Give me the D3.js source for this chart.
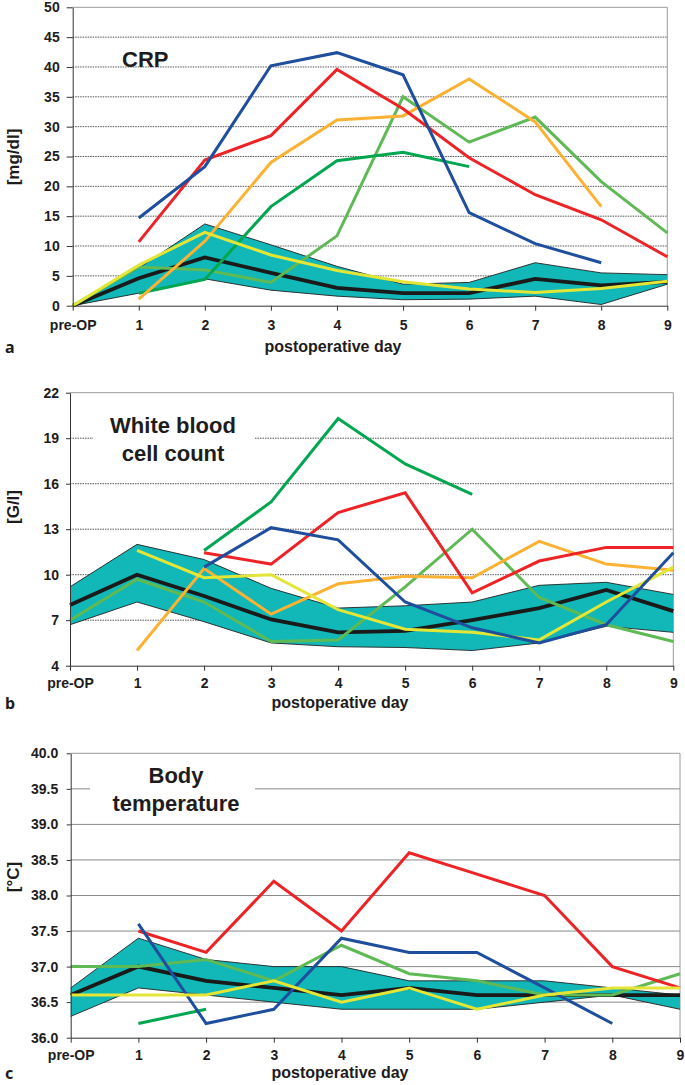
<!DOCTYPE html>
<html>
<head>
<meta charset="utf-8">
<script src="https://cdn.jsdelivr.net/npm/d3@7"></script>
<style>
    body { margin: 0; background: #fff; }
    text { font-family: "Liberation Sans", Arial, sans-serif; font-weight: bold; fill: #1e1c1c; }
    .panel-letter { font-family: "Noto Sans", "DejaVu Sans", sans-serif; font-size: 16px; }
</style>
</head>
<body>
<svg id="chart" width="685" height="1085"></svg>
<script>
const days = ["pre-OP", "1", "2", "3", "4", "5", "6", "7", "8", "9"];

// a: CRP [mg/dl]
const crpTicks = [0, 5, 10, 15, 20, 25, 30, 35, 40, 45, 50];
const crpUpper = [0, 6.3, 13.7, 10.2, 6.6, 3.6, 3.9, 7.2, 5.5, 5.2];
const crpLower = [0, 2.1, 4.5, 2.6, 1.6, 1.0, 1.1, 1.6, 0.2, 3.6];
const crpMedian = [0, 4.6, 8.1, 5.5, 3.0, 2.1, 2.1, 4.5, 3.4, 4.0];
const crpYellow = [0, 6.8, 12.3, 8.5, 5.9, 4.0, 2.8, 2.2, 2.9, 4.1];
const crpLightGreen = [0, 6.5, 6.0, 3.9, 11.7, 35.0, 27.4, 31.6, 20.8, 12.2];
const crpDarkGreen = [null, 2.1, 4.4, 16.6, 24.3, 25.7, 23.3, null, null, null];
const crpOrange = [null, 1.1, 10.8, 24.0, 31.1, 31.8, 38.0, 30.8, 16.6, null];
const crpRed = [null, 10.7, 24.4, 28.5, 39.6, 33.0, 24.8, 18.6, 14.4, 8.2];
const crpBlue = [null, 14.7, 23.3, 40.2, 42.4, 38.7, 15.6, 10.4, 7.2, null];

// b: white blood cell count [G/l]
const wbcTicks = [4, 7, 10, 13, 16, 19, 22];
const wbcUpper = [9.2, 12.0, 11.0, 9.1, 7.8, 7.95, 8.2, 9.3, 9.5, 8.7];
const wbcLower = [6.7, 8.2, 6.9, 5.5, 5.25, 5.2, 5.0, 5.5, 6.6, 6.2];
const wbcMedian = [8.0, 10.0, 8.6, 7.05, 6.2, 6.3, 7.0, 7.8, 9.0, 7.6];
const wbcYellow = [null, 11.6, 9.8, 10.0, 7.7, 6.4, 6.2, 5.7, 8.2, 10.5];
const wbcLightGreen = [7.0, 9.7, 8.2, 5.6, 5.7, 9.2, 13.0, 8.5, 6.7, 5.6];
const wbcDarkGreen = [null, null, 11.6, 14.8, 20.3, 17.3, 15.3, null, null, null];
const wbcOrange = [null, 5.0, 10.4, 7.4, 9.4, 9.9, 9.8, 12.2, 10.7, 10.3];
const wbcRed = [null, null, 11.45, 10.7, 14.1, 15.4, 8.8, 10.9, 11.8, 11.8];
const wbcBlue = [null, null, 10.5, 13.1, 12.3, 8.2, 6.5, 5.5, 6.7, 11.45];

// c: body temperature [°C]
const tempTicks = [36.0, 36.5, 37.0, 37.5, 38.0, 38.5, 39.0, 39.5, 40.0];
const tempUpper = [36.7, 37.4, 37.1, 37.0, 37.0, 36.8, 36.8, 36.8, 36.7, 36.6];
const tempLower = [36.3, 36.7, 36.6, 36.5, 36.4, 36.4, 36.4, 36.5, 36.6, 36.4];
const tempMedian = [36.6, 37.0, 36.8, 36.7, 36.6, 36.7, 36.6, 36.6, 36.6, 36.6];
const tempYellow = [36.6, 36.6, 36.6, 36.8, 36.5, 36.7, 36.4, 36.6, 36.7, 36.7];
const tempLightGreen = [37.0, 37.0, 37.1, 36.8, 37.3, 36.9, 36.8, 36.6, 36.6, 36.9];
const tempDarkGreen = [null, 36.2, 36.4, null, null, null, null, null, null, null];
const tempRed = [null, 37.5, 37.2, 38.2, 37.5, 38.6, 38.3, 38.0, 37.0, 36.7];
const tempBlue = [null, 37.6, 36.2, 36.4, 37.4, 37.2, 37.2, 36.7, 36.2, null];

const colors = {
    band: "#12b7b7",
    median: "#1a1a1a",
    lightGreen: "#5fb954",
    darkGreen: "#00a650",
    orange: "#fbb232",
    red: "#ed2326",
    blue: "#1f4e9d",
    yellow: "#e3e636"
};

const svg = d3.select("#chart");

function drawPanel(p) {
    let x = d3.scalePoint().domain(days).range(p.xRange);
    let y = d3.scaleLinear().domain(p.yDomain).range(p.yRange);
    let left = p.xRange[0], right = p.xRange[1];
    let bottom = p.yRange[0], top = p.yRange[1];
    let g = svg.append("g");

    // horizontal grid lines (first and last tick are axis / frame)
    g.selectAll("line.grid")
        .data(p.yTicks.slice(1, -1))
        .join("line")
        .classed("grid", true)
        .attr("x1", left)
        .attr("x2", right)
        .attr("y1", d => y(d))
        .attr("y2", d => y(d))
        .attr("stroke", p.dotted ? "#555" : "#8a8a8a")
        .attr("stroke-width", 1)
        .attr("stroke-dasharray", p.dotted ? "1.5,1" : null);

    // top and right frame
    g.append("path")
        .attr("d", "M" + left + "," + top + "H" + right + "V" + bottom)
        .attr("fill", "none")
        .attr("stroke", "#9a9a9a");

    // title, on a white patch where it crosses a grid line
    if (p.titleBox) {
        g.append("rect")
            .attr("x", p.titleBox[0])
            .attr("y", p.titleBox[1])
            .attr("width", p.titleBox[2])
            .attr("height", p.titleBox[3])
            .attr("fill", "#fff");
    }
    g.append("text")
        .attr("text-anchor", p.titleAnchor)
        .attr("font-size", 22)
        .selectAll("tspan")
        .data(p.title)
        .join("tspan")
        .attr("x", p.titlePos[0])
        .attr("y", (d, i) => p.titlePos[1] + i * 27.5)
        .text(d => d);

    // interquartile band
    let area = d3.area()
        .x((d, i) => x(days[i]))
        .y0((d, i) => y(p.lower[i]))
        .y1(d => y(d));
    g.append("path")
        .datum(p.upper)
        .attr("d", area)
        .attr("fill", colors.band);

    let line = d3.line()
        .defined(d => d != null)
        .x((d, i) => x(days[i]))
        .y(d => y(d));

    g.selectAll("path.edge")
        .data([p.upper, p.lower])
        .join("path")
        .classed("edge", true)
        .attr("d", line)
        .attr("fill", "none")
        .attr("stroke", "#222")
        .attr("stroke-width", 0.9);

    g.selectAll("path.series")
        .data(p.series)
        .join("path")
        .classed("series", true)
        .attr("d", d => line(d.values))
        .attr("fill", "none")
        .attr("stroke", d => colors[d.color])
        .attr("stroke-width", d => d.color == "median" ? 3.8 : 3)
        .attr("stroke-linejoin", "miter");

    // axes
    g.append("g")
        .attr("transform", "translate(" + left + ",0)")
        .attr("color", "#333")
        .call(d3.axisLeft(y).tickValues(p.yTicks).tickFormat(p.yFormat)
            .tickSize(p.yTickSize).tickPadding(p.yPad).tickSizeOuter(0))
        .attr("font-family", null)
        .attr("font-size", 14);

    g.append("g")
        .attr("transform", "translate(0," + bottom + ")")
        .attr("color", "#333")
        .call(d3.axisBottom(x).tickSize(5).tickPadding(p.xPad).tickSizeOuter(0))
        .attr("font-family", null)
        .attr("font-size", 14);

    // axis titles and panel letter
    g.append("text")
        .attr("transform", "translate(19," + p.yLabelY + ") rotate(-90)")
        .attr("text-anchor", "middle")
        .attr("font-size", 17)
        .text(p.yLabel);

    g.append("text")
        .attr("x", p.xLabelX)
        .attr("y", p.xLabelY)
        .attr("text-anchor", "middle")
        .attr("font-size", 16)
        .text("postoperative day");

    g.append("text")
        .classed("panel-letter", true)
        .attr("x", 5)
        .attr("y", p.xLabelY + 1)
        .text(p.letter);
}

drawPanel({
    xRange: [72.7, 667.3],
    yDomain: [0, 50],
    yRange: [305.7, 7.3],
    yTicks: crpTicks,
    yFormat: d3.format("d"),
    yTickSize: 6,
    yPad: 7,
    xPad: 9.5,
    dotted: true,
    title: ["CRP"],
    titleAnchor: "start",
    titlePos: [122, 67],
    upper: crpUpper,
    lower: crpLower,
    series: [
        {color: "median", values: crpMedian},
        {color: "lightGreen", values: crpLightGreen},
        {color: "darkGreen", values: crpDarkGreen},
        {color: "orange", values: crpOrange},
        {color: "red", values: crpRed},
        {color: "blue", values: crpBlue},
        {color: "yellow", values: crpYellow}
    ],
    yLabel: "[mg/dl]",
    yLabelY: 157,
    xLabelX: 333,
    xLabelY: 352,
    letter: "a"
});

drawPanel({
    xRange: [70, 673.3],
    yDomain: [4, 22],
    yRange: [665.7, 392.7],
    yTicks: wbcTicks,
    yFormat: d3.format("d"),
    yTickSize: 4,
    yPad: 7,
    xPad: 7.5,
    dotted: true,
    title: ["White blood", "cell count"],
    titleAnchor: "middle",
    titlePos: [173, 433],
    titleBox: [93, 412, 162, 58],
    upper: wbcUpper,
    lower: wbcLower,
    series: [
        {color: "median", values: wbcMedian},
        {color: "lightGreen", values: wbcLightGreen},
        {color: "darkGreen", values: wbcDarkGreen},
        {color: "orange", values: wbcOrange},
        {color: "red", values: wbcRed},
        {color: "yellow", values: wbcYellow},
        {color: "blue", values: wbcBlue}
    ],
    yLabel: "[G/l]",
    yLabelY: 507,
    xLabelX: 340,
    xLabelY: 708,
    letter: "b"
});

drawPanel({
    xRange: [70.7, 680],
    yDomain: [36, 40],
    yRange: [1037.7, 753.3],
    yTicks: tempTicks,
    yFormat: d3.format(".1f"),
    yTickSize: 4,
    yPad: 8.5,
    xPad: 7.5,
    dotted: false,
    title: ["Body", "temperature"],
    titleAnchor: "middle",
    titlePos: [176, 783],
    titleBox: [90, 764, 165, 52],
    upper: tempUpper,
    lower: tempLower,
    series: [
        {color: "median", values: tempMedian},
        {color: "lightGreen", values: tempLightGreen},
        {color: "darkGreen", values: tempDarkGreen},
        {color: "red", values: tempRed},
        {color: "blue", values: tempBlue},
        {color: "yellow", values: tempYellow}
    ],
    yLabel: "[°C]",
    yLabelY: 877,
    xLabelX: 340,
    xLabelY: 1078,
    letter: "c"
});
</script>
</body>
</html>
